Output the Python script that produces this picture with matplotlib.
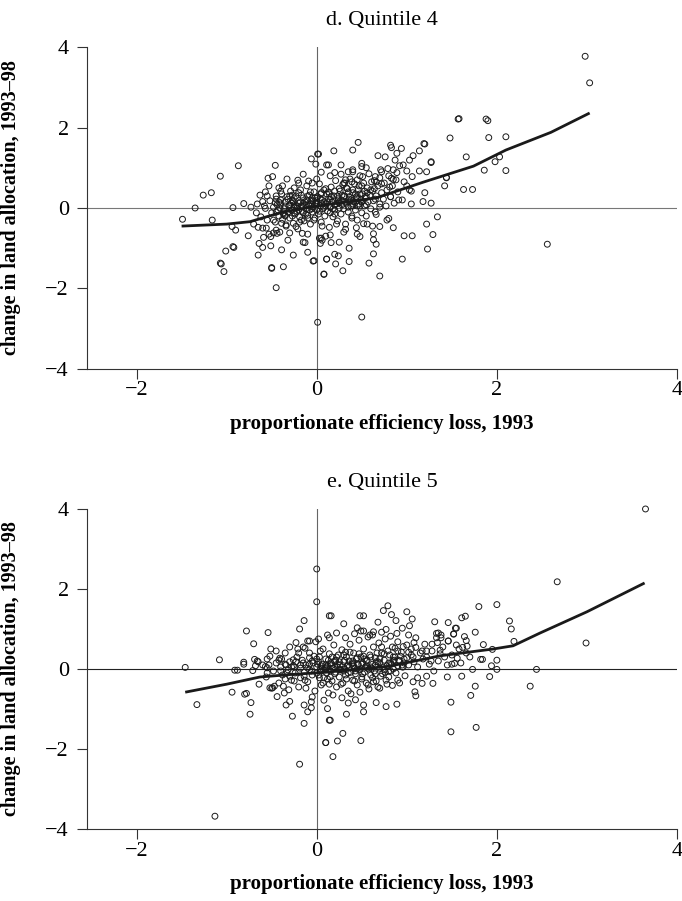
import matplotlib
matplotlib.use("Agg")
import matplotlib.pyplot as plt

plt.rcParams['font.family'] = ['Liberation Serif', 'DejaVu Serif']
plt.rcParams['axes.unicode_minus'] = True

# ========== panel d: Quintile 4 ==========
# outlying points
d_x_edge = [-1.49, -1.35, -1.26, -1.17, -1.07, -0.87, -1.16, -0.93, -0.94, -0.90,
            -1.01, -0.93, -0.92, -1.07, -1.06, -1.03, -0.76, -0.81, -0.73, -0.67,
            -0.65, -0.63, -0.60, -0.57, -0.65, -0.64, -0.60, -0.59, -0.56, -0.51,
            -0.50, -0.50, -0.45, -0.51, -0.46, -0.54, -0.49, -0.53, -0.42, -0.33,
            -0.45, -0.46, -0.39, -0.37, -0.26, -0.44, -0.41, -0.35, -0.39, -0.23,
            -0.16, -0.13, -0.10, -0.04, 0.08, 0.11, -0.06, 0.02, -0.01, -0.15,
            -0.21, -0.09, 0.05, 0.11, 0.01, 0.03, 0.04,
            1.57, 1.48, 1.19, 1.20, 0.82, 0.83, 0.46, 0.40, 0.19, 0.01,
            0.94, 0.68, 0.76, 0.89, 1.07, 1.14, 1.27, 1.03, 1.00, 1.14,
            1.22, 1.44, 1.42, 1.20, 1.18, 1.27, 1.03, 1.05, 0.91, 0.82,
            0.83, 0.85, 0.87, 0.96, 0.80, 0.85, 0.97, 1.06, 1.22, 1.34,
            1.29, 1.23, 0.95, 0.70, 0.66, 0.63, 0.58, 0.70, 0.63, 0.63,
            0.48, 0.36, 0.36, 0.29, 0.21, 0.24, 0.20, 0.11, 0.08, -0.03,
            0.50, 0.70, 0.66, 0.56, 0.52, 0.44, 0.32, 0.16, 0.15, 0.06,
            0.66, 0.61, 0.51, 0.50, 0.50, 0.27, 0.13, 0.27, 0.40, 0.39,
            0.32, 0.72, 0.79,
            1.88, 1.90, 1.91, 2.10, 1.66, 2.03, 1.98, 1.86, 2.10, 1.44,
            1.63, 1.73, 1.27, 2.56, 2.98, 3.03, 1.58]
d_y_edge = [-0.28, 0.00, 0.32, 0.38, 0.79, 1.05, -0.30, 0.01, -0.46, -0.55,
            -1.07, -0.96, -0.98, -1.37, -1.39, -1.58, -0.69, 0.11, 0.02, -0.12,
            -0.48, 0.32, 0.16, -0.01, -1.17, -0.88, -0.98, -0.73, -0.50, -0.71,
            -1.48, -1.50, -1.98, -0.94, 1.06, 0.74, 0.78, 0.55, 0.50, 0.72,
            0.30, 0.13, -1.04, -1.46, -1.17, -0.63, -0.60, -0.20, -0.38, -0.46,
            -0.63, -0.86, -1.10, -1.32, -1.65, -1.27, 1.22, 1.34, 1.09, 0.84,
            0.69, 0.67, 0.89, 1.07, -2.84, -0.75, -0.88,
            2.21, 1.74, 1.60, 1.59, 1.56, 1.50, 1.63, 1.44, 1.42, 1.34,
            1.48, 1.30, 1.27, 1.36, 1.30, 1.42, 1.13, 1.19, 0.92, 0.92,
            0.90, 0.75, 0.55, 0.38, 0.16, 0.12, 0.45, 0.42, 0.20, 0.28,
            0.74, 0.71, 1.19, 1.07, -0.26, -0.49, -0.69, -0.69, -0.40, -0.22,
            -0.66, -1.02, -1.27, -0.46, -0.90, -1.14, -1.37, -1.69, -0.79, -0.64,
            -0.71, -1.00, -1.33, -1.56, -1.39, -1.19, -1.15, -1.27, -1.64, -1.31,
            -2.71, 0.02, -0.16, -0.40, -0.39, -0.49, -0.53, -0.86, -0.67, -0.80,
            0.65, 0.65, 0.78, 1.11, 1.03, 1.07, 1.07, 0.84, 0.90, 0.65,
            0.70, 0.90, 0.98,
            2.21, 2.17, 1.75, 1.77, 1.27, 1.27, 1.15, 0.94, 0.93, 0.76,
            0.46, 0.46, 1.15, -0.90, 3.77, 3.11, 2.22]
# dense cloud around the origin (estimated)
d_x_core = [-0.62, -0.58, -0.55, -0.52, -0.50, -0.48, -0.46, -0.45, -0.43, -0.42,
            -0.40, -0.39, -0.38, -0.36, -0.35, -0.34, -0.33, -0.32, -0.31, -0.30,
            -0.29, -0.28, -0.27, -0.26, -0.25, -0.24, -0.23, -0.22, -0.21, -0.20,
            -0.19, -0.18, -0.17, -0.16, -0.15, -0.14, -0.13, -0.12, -0.11, -0.10,
            -0.09, -0.08, -0.07, -0.06, -0.05, -0.04, -0.03, -0.02, -0.01, 0.00,
            0.01, 0.02, 0.03, 0.04, 0.05, 0.06, 0.07, 0.08, 0.09, 0.10,
            0.11, 0.12, 0.13, 0.14, 0.15, 0.16, 0.17, 0.18, 0.19, 0.20,
            0.21, 0.22, 0.23, 0.24, 0.25, 0.26, 0.27, 0.28, 0.29, 0.30,
            0.31, 0.32, 0.33, 0.34, 0.35, 0.36, 0.37, 0.38, 0.39, 0.40,
            0.41, 0.42, 0.43, 0.44, 0.45, 0.46, 0.47, 0.48, 0.49, 0.50,
            0.51, 0.52, 0.53, 0.54, 0.55, 0.56, 0.57, 0.58, 0.59, 0.60,
            0.62, 0.63, 0.64, 0.65, 0.66, 0.68, 0.70, 0.71, 0.72, 0.74,
            0.75, 0.77, 0.78, 0.80, 0.82, 0.84, 0.86, 0.88, 0.90, 0.92,
            -0.35, -0.28, -0.22, -0.18, -0.12, -0.08, -0.04, 0.00, 0.04, 0.08,
            0.12, 0.16, 0.20, 0.24, 0.28, 0.32, 0.36, 0.40, 0.44, 0.48,
            -0.25, -0.15, -0.05, 0.05, 0.15, 0.25, 0.35, 0.45, 0.55, 0.65,
            -0.45, -0.38, -0.30, -0.20, -0.10, 0.00, 0.10, 0.20, 0.30, 0.40,
            -0.55, -0.48, -0.40, -0.32, -0.25, -0.15, -0.05, 0.05, 0.15, 0.25,
            0.35, 0.45, 0.55, 0.62, 0.70, 0.78, 0.85, 0.95, 1.00, 1.05,
            -0.70, -0.66, -0.60, -0.57, -0.53, -0.44, -0.37, -0.27, -0.17, -0.07,
            -0.45, -0.40, -0.35, -0.30, -0.25, -0.20, -0.15, -0.10, -0.05, 0.00,
            0.05, 0.10, 0.15, 0.20, 0.25, 0.30, 0.35, 0.40, 0.45, 0.50,
            -0.42, -0.37, -0.32, -0.27, -0.22, -0.17, -0.12, -0.07, -0.02, 0.03,
            0.08, 0.13, 0.18, 0.23, 0.28, 0.33, 0.38, 0.43, 0.48, 0.53,
            -0.48, -0.41, -0.34, -0.26, -0.19, -0.11, -0.03, 0.06, 0.14, 0.22,
            0.31, 0.39, 0.47, 0.56, 0.64, 0.72, 0.81, 0.89, 0.97, 1.06,
            -0.30, -0.20, -0.10, 0.00, 0.10, 0.20, 0.30, 0.40, 0.50, 0.60,
            -0.25, -0.15, -0.05, 0.05, 0.15, 0.25, 0.35, 0.45, 0.55, 0.65]
d_y_core = [-0.22, 0.05, -0.30, 0.18, -0.12, 0.02, -0.35, 0.22, -0.05, -0.20,
            0.10, 0.35, -0.28, -0.02, 0.15, -0.45, 0.28, -0.10, 0.05, -0.25,
            0.42, -0.05, 0.18, -0.38, 0.08, -0.15, 0.30, 0.00, -0.52, 0.12,
            -0.22, 0.45, 0.05, -0.08, 0.25, -0.32, 0.15, -0.02, 0.55, -0.18,
            0.08, 0.32, -0.40, 0.18, -0.10, 0.02, 0.40, -0.25, 0.12, -0.05,
            0.28, -0.15, 0.60, 0.05, -0.35, 0.20, -0.02, 0.45, -0.20, 0.10,
            0.35, -0.08, 0.22, -0.48, 0.02, 0.52, 0.15, -0.22, 0.30, -0.05,
            0.68, 0.10, -0.32, 0.25, 0.00, 0.42, -0.15, 0.18, 0.58, -0.02,
            0.30, -0.40, 0.12, 0.48, -0.10, 0.22, 0.72, 0.05, -0.25, 0.38,
            0.15, 0.60, -0.05, 0.28, -0.30, 0.45, 0.10, 0.80, 0.20, -0.12,
            0.35, 0.62, 0.05, 0.25, -0.20, 0.50, 0.15, 0.85, 0.32, -0.02,
            0.42, 0.18, 0.68, -0.10, 0.30, 0.55, 0.10, 0.95, 0.38, 0.22,
            0.62, 0.05, 0.45, 0.80, 0.28, 0.55, 0.12, 0.70, 0.40, 1.05,
            0.05, 0.12, -0.08, 0.15, 0.08, -0.05, 0.18, 0.10, 0.22, 0.02,
            0.15, 0.28, 0.08, 0.20, 0.32, 0.15, 0.28, 0.05, 0.18, 0.35,
            0.02, -0.12, 0.25, 0.12, -0.12, 0.15, 0.40, 0.05, 0.08, 0.22,
            -0.55, 0.55, -0.62, 0.62, -0.65, 0.72, -0.70, 0.88, -0.60, 0.95,
            0.30, -0.62, 0.42, -0.80, 0.50, -0.85, 0.62, -0.75, 0.80, -0.85,
            0.90, -0.65, 1.00, -0.45, 0.75, -0.30, 0.95, 0.20, 0.55, 0.10,
            -0.40, 0.10, -0.50, 0.40, -0.65, 0.08, -0.15, 0.32, -0.30, 0.40,
            -0.10, 0.20, -0.18, 0.08, 0.25, -0.05, 0.12, 0.30, -0.02, 0.18,
            0.35, 0.05, 0.22, 0.42, 0.12, 0.28, 0.02, 0.45, 0.25, 0.15,
            0.15, -0.12, 0.22, -0.20, 0.05, 0.32, -0.15, 0.10, 0.25, -0.08,
            0.15, 0.40, -0.02, 0.30, 0.08, 0.50, 0.20, 0.35, 0.05, 0.42,
            -0.30, 0.00, -0.42, 0.15, -0.35, 0.20, -0.30, -0.45, 0.35, -0.40,
            0.62, -0.20, 0.55, 0.38, 0.48, 0.60, 0.52, 0.88, 0.65, 0.78,
            0.30, 0.38, -0.25, 0.25, 0.48, -0.15, 0.62, 0.10, 0.55, 0.45,
            -0.12, 0.05, 0.08, 0.38, 0.02, 0.48, 0.18, 0.70, 0.28, 0.78]
# lowess line
d_line_x = [-1.50, -1.00, -0.74, -0.56, -0.37, 0.00, 0.40, 0.66, 1.18, 1.74, 2.10, 2.60, 3.03]
d_line_y = [-0.45, -0.40, -0.34, -0.22, -0.10, 0.05, 0.17, 0.25, 0.64, 1.04, 1.44, 1.88, 2.36]

# ========== panel e: Quintile 5 ==========
e_x_edge = [-1.46, -1.33, -1.08, -1.13, -0.91, -0.88, -0.94, -0.78, -0.81, -0.81,
            -0.70, -0.71, -0.78, -0.80, -0.73, -0.74, -0.64, -0.69, -0.66, -0.68,
            -0.54, -0.51, -0.55, -0.57, -0.53, -0.55, -0.52, -0.49, -0.47, -0.44,
            -0.41, -0.39, -0.34, -0.26, -0.23, -0.19, -0.14, -0.21, -0.13, -0.08,
            -0.01, -0.37, -0.31, -0.34, -0.30, -0.27, -0.14, -0.14, -0.10, -0.06,
            -0.06, -0.19, 0.10, 0.14, 0.00, 0.14, 0.14, 0.00,
            0.16, 0.30, 0.48, 0.52, 0.45, 0.49, 0.79, 0.74, 0.83, 1.00,
            0.88, 1.06, 1.03, 0.95, 0.77, 0.68, 0.63, 0.59, 0.89, 1.02,
            1.31, 1.46, 1.55, 1.33, 1.35, 1.33, 1.46, 1.52, 1.34, 1.28,
            1.22, 1.37, 1.08, 1.10, 0.96, 1.07, 1.09, 1.10, 1.17, 1.29,
            1.22, 0.98, 0.90, 0.84, 0.89, 0.77, 0.66, 0.70, 1.49, 1.49,
            0.52, 0.52, 0.49, 0.33, 0.29, 0.23, 0.15, 0.10, 0.18, 0.12,
            0.35, 0.43,
            2.67, 1.80, 2.00, 1.61, 1.65, 2.14, 2.16, 1.54, 1.76, 1.52,
            1.38, 1.38, 1.64, 1.66, 1.46, 2.19, 2.99, 1.85, 1.67, 1.62,
            1.58, 1.95, 1.66, 1.56, 1.84, 1.82, 2.00, 1.50, 1.53, 1.45,
            1.94, 1.73, 2.00, 2.44, 1.61, 1.92, 1.76, 2.37, 1.71, 1.77,
            3.65]
e_y_edge = [0.04, -0.89, 0.23, -3.68, -0.03, -0.03, -0.58, 0.95, 0.17, 0.12,
            0.63, -0.04, -0.61, -0.63, -0.84, -1.13, -0.38, 0.24, 0.20, 0.08,
            0.91, 0.50, 0.25, 0.06, 0.10, 0.03, -0.47, -0.47, -0.43, -0.69,
            0.27, 0.25, 0.10, 0.23, 0.66, 1.00, 1.21, 0.50, 0.52, 0.70,
            0.68, -0.43, -0.52, -0.90, -0.81, -1.18, -1.36, -0.90, -1.07, -0.97,
            -0.82, -2.38, -1.84, -1.28, 1.68, 1.33, 0.78, 2.50,
            1.33, 1.13, 1.33, 1.33, 1.03, 0.95, 1.58, 1.46, 1.36, 1.43,
            1.21, 1.25, 1.08, 1.02, 0.99, 1.17, 0.93, 0.85, 0.89, 0.85,
            1.18, 1.16, 1.02, 0.89, 0.90, 0.78, 0.70, 0.88, 0.66, 0.62,
            0.45, 0.47, 0.66, 0.54, 0.56, -0.32, -0.57, -0.67, -0.36, -0.36,
            -0.18, -0.17, -0.28, -0.41, -0.88, -0.94, -0.84, -0.48, -0.83, -1.57,
            -0.90, -1.07, -1.79, -1.13, -1.61, -1.80, -1.28, -1.84, -2.19, -0.99,
            -0.85, -0.77,
            2.18, 1.56, 1.61, 1.28, 1.32, 1.20, 1.00, 1.02, 0.92, 0.87,
            0.85, 0.78, 0.81, 0.71, 0.70, 0.69, 0.65, 0.61, 0.57, 0.54,
            0.50, 0.49, 0.40, 0.27, 0.24, 0.24, 0.22, 0.12, 0.14, 0.10,
            0.08, -0.01, -0.01, -0.01, -0.18, -0.19, -0.43, -0.43, -0.66, -1.46,
            4.00]
e_x_core = [-0.60, -0.56, -0.52, -0.48, -0.45, -0.42, -0.40, -0.38, -0.35, -0.32,
            -0.30, -0.28, -0.26, -0.24, -0.22, -0.20, -0.18, -0.16, -0.14, -0.12,
            -0.10, -0.08, -0.06, -0.04, -0.02, 0.00, 0.02, 0.03, 0.04, 0.05,
            0.06, 0.07, 0.08, 0.09, 0.10, 0.11, 0.12, 0.13, 0.14, 0.15,
            0.16, 0.17, 0.18, 0.19, 0.20, 0.21, 0.22, 0.23, 0.24, 0.25,
            0.26, 0.27, 0.28, 0.29, 0.30, 0.31, 0.32, 0.33, 0.34, 0.35,
            0.36, 0.37, 0.38, 0.39, 0.40, 0.41, 0.42, 0.43, 0.44, 0.45,
            0.46, 0.47, 0.48, 0.49, 0.50, 0.51, 0.52, 0.53, 0.54, 0.55,
            0.56, 0.57, 0.58, 0.59, 0.60, 0.62, 0.63, 0.64, 0.65, 0.66,
            0.68, 0.69, 0.70, 0.72, 0.73, 0.75, 0.76, 0.78, 0.79, 0.80,
            0.82, 0.84, 0.85, 0.87, 0.88, 0.90, 0.92, 0.94, 0.95, 0.97,
            1.00, 1.02, 1.05, 1.08, 1.10, 1.12, 1.15, 1.18, 1.20, 1.25,
            -0.05, 0.00, 0.05, 0.10, 0.15, 0.20, 0.25, 0.30, 0.35, 0.40,
            0.45, 0.50, 0.55, 0.60, 0.65, 0.70, 0.75, 0.80, 0.85, 0.90,
            -0.15, -0.10, -0.05, 0.02, 0.08, 0.12, 0.18, 0.22, 0.28, 0.32,
            0.38, 0.42, 0.48, 0.52, 0.58, 0.62, 0.68, 0.72, 0.78, 0.82,
            -0.50, -0.45, -0.36, -0.30, -0.25, -0.20, -0.12, -0.08, 0.04, 0.14,
            1.28, 1.30, 1.35, 1.40, 1.42, 1.45, 1.50, 1.55, 1.60, 1.70,
            -0.35, -0.28, -0.18, -0.08, 0.02, 0.12, 0.22, 0.32, 0.42, 0.52,
            0.62, 0.72, 0.82, 0.92, 1.02, 1.12, 1.22, -0.42, -0.55, -0.65,
            -0.40, -0.35, -0.30, -0.25, -0.20, -0.15, -0.10, -0.05, 0.00, 0.05,
            0.10, 0.15, 0.20, 0.25, 0.30, 0.35, 0.40, 0.45, 0.50, 0.55,
            0.60, 0.65, 0.70, 0.75, 0.80, 0.85, 0.90, 0.95, 1.00, 1.05,
            -0.33, -0.23, -0.13, -0.03, 0.07, 0.17, 0.27, 0.37, 0.47, 0.57,
            0.67, 0.77, 0.87, 0.97, 1.07, 1.17, 1.27, 1.37, 0.01, 0.11,
            0.21, 0.31, 0.41, 0.51, 0.61, 0.71, 0.81, 0.91, -0.18, -0.08,
            0.03, 0.13, 0.23, 0.33, 0.43, 0.53, 0.63, 0.73, 0.83, 0.93,
            0.06, 0.16, 0.26, 0.36, 0.46, 0.56, 0.66, 0.76, 0.86, 0.96]
e_y_core = [0.10, -0.20, 0.32, -0.05, 0.15, -0.35, 0.05, -0.15, 0.40, -0.02,
            0.18, -0.28, 0.08, -0.10, 0.30, -0.45, 0.02, 0.22, -0.18, 0.10,
            -0.32, 0.40, -0.05, 0.15, -0.55, 0.05, -0.15, 0.30, -0.02, -0.40,
            0.12, 0.50, -0.22, 0.02, 0.25, -0.10, 0.08, -0.60, 0.38, -0.05,
            0.15, -0.30, 0.02, 0.60, -0.12, 0.22, -0.45, 0.05, 0.35, -0.20,
            0.10, -0.02, 0.48, -0.35, 0.18, 0.00, -0.15, 0.30, 0.08, -0.55,
            0.20, 0.62, -0.08, 0.12, -0.28, 0.40, 0.02, -0.12, 0.25, -0.40,
            0.10, 0.72, -0.02, 0.30, -0.20, 0.15, 0.50, -0.08, 0.05, -0.35,
            0.22, 0.80, 0.00, 0.35, -0.15, 0.12, 0.55, -0.05, 0.28, -0.30,
            0.18, 0.65, 0.02, 0.40, -0.12, 0.22, 0.75, 0.08, 0.45, -0.20,
            0.15, 0.55, 0.00, 0.30, -0.10, 0.68, 0.20, 0.42, 0.05, 0.25,
            0.60, 0.10, 0.35, 0.18, 0.78, 0.05, 0.40, 0.25, 0.62, 0.12,
            0.20, -0.10, 0.08, -0.02, 0.12, 0.05, 0.18, -0.05, 0.10, 0.20,
            0.00, 0.12, 0.20, 0.05, 0.10, 0.25, -0.02, 0.15, 0.30, 0.08,
            0.55, 0.70, -0.70, 0.75, -0.78, 0.85, -0.65, 0.90, -0.72, 0.78,
            -0.62, 0.88, -0.58, 0.95, -0.50, 0.85, -0.45, 0.92, -0.38, 0.82,
            -0.48, 0.45, -0.60, 0.55, -0.30, 0.40, -0.48, 0.12, 0.45, -0.38,
            0.45, -0.05, 0.20, 0.55, 0.30, -0.20, 0.35, 0.60, 0.15, 0.30,
            -0.25, 0.05, -0.22, 0.28, 0.18, -0.25, 0.30, 0.42, -0.30, 0.32,
            -0.22, 0.55, -0.05, -0.35, 0.42, -0.22, 0.30, 0.22, -0.10, 0.18,
            -0.05, 0.12, -0.18, 0.05, -0.08, 0.15, 0.02, -0.15, 0.25, -0.05,
            0.10, -0.20, 0.20, 0.00, 0.35, -0.10, 0.15, 0.28, -0.25, 0.08,
            0.30, -0.12, 0.15, 0.38, -0.05, 0.20, 0.45, 0.10, 0.28, 0.50,
            -0.10, 0.18, -0.28, 0.32, -0.35, 0.30, -0.38, 0.42, 0.38, -0.40,
            0.40, -0.28, 0.52, 0.15, 0.30, 0.45, 0.20, 0.38, 0.12, 0.05,
            -0.08, 0.22, 0.08, -0.12, 0.02, -0.18, 0.35, 0.22, 0.10, -0.02,
            -0.22, 0.22, 0.12, -0.25, -0.05, 0.25, -0.32, 0.05, 0.12, 0.32,
            0.02, 0.08, -0.02, 0.05, 0.12, 0.02, 0.18, -0.08, 0.22, 0.05]
e_line_x = [-1.46, -1.00, -0.63, -0.30, 0.10, 0.50, 0.81, 1.37, 1.96, 2.18, 2.48, 3.00, 3.64]
e_line_y = [-0.58, -0.38, -0.20, -0.14, -0.08, 0.00, 0.07, 0.33, 0.50, 0.58, 0.90, 1.43, 2.15]

titles = ['d. Quintile 4', 'e. Quintile 5']
xlab = 'proportionate efficiency loss, 1993'
ylab = 'change in land allocation, 1993–98'

fig = plt.figure(figsize=(6.82, 9.01), dpi=100)
ax_pos = [[0.1276, 0.5905, 0.8651, 0.3573],
          [0.1276, 0.0799, 0.8651, 0.3552]]

panels = [
    (d_x_edge + d_x_core, d_y_edge + d_y_core, d_line_x, d_line_y, '#777777'),
    (e_x_edge + e_x_core, e_y_edge + e_y_core, e_line_x, e_line_y, '#222222'),
]

for i, (px, py, lx, ly, hcol) in enumerate(panels):
    ax = fig.add_axes(ax_pos[i])
    ax.axhline(0, color=hcol, lw=0.8, zorder=1)
    ax.axvline(0, color='#666666', lw=0.8, zorder=1)
    ax.scatter(px, py, s=18, facecolors='none', edgecolors='#1a1a1a',
               linewidths=0.7, zorder=2, clip_on=False)
    ax.plot(lx, ly, color='#1a1a1a', lw=2.0, solid_capstyle='butt', zorder=3)

    ax.set_xlim(-2.55, 4)
    ax.set_ylim(-4, 4)
    ax.set_xticks([-2, 0, 2, 4])
    ax.set_yticks([-4, -2, 0, 2, 4])
    for s in ['top', 'right']:
        ax.spines[s].set_visible(False)
    for s in ['left', 'bottom']:
        ax.spines[s].set_color('#333333')
        ax.spines[s].set_linewidth(0.8)
    ax.tick_params(direction='out', length=7, width=0.8, color='#333333',
                   labelsize=16)
    ax.tick_params(axis='x', pad=2)
    ax.tick_params(axis='y', pad=6)
    ax.set_title(titles[i], fontsize=16, pad=16)
    ax.set_xlabel(xlab, fontsize=15, fontweight='bold', labelpad=10)
    ax.set_ylabel(ylab, fontsize=14.5, fontweight='bold')
    ax.yaxis.set_label_coords(-0.112, 0.5)

fig.savefig('out.png', dpi=100)
